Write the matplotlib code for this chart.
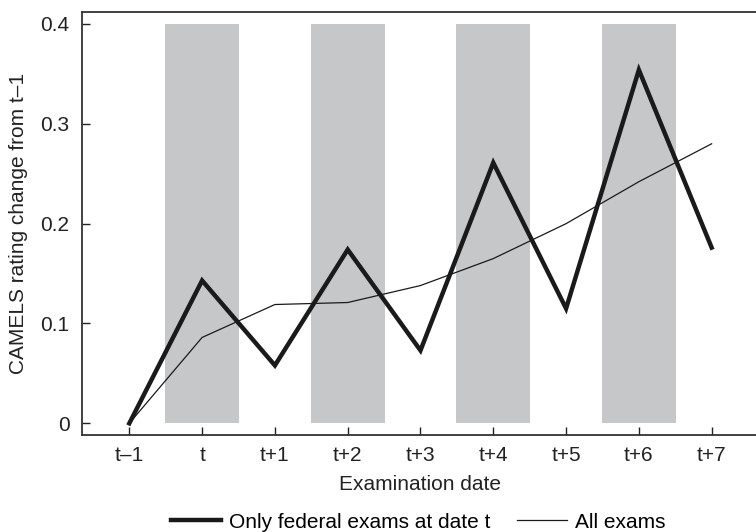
import matplotlib
matplotlib.use("Agg")
import matplotlib.pyplot as plt
from matplotlib.lines import Line2D

plt.rcParams['font.family'] = ['Liberation Sans', 'DejaVu Sans']

# Examination dates relative to t
dates = ["t\u20131", "t", "t+1", "t+2", "t+3", "t+4", "t+5", "t+6", "t+7"]
# Mean CAMELS rating change since t-1
federal_only = [0.0, 0.143, 0.058, 0.174, 0.073, 0.261, 0.115, 0.354, 0.176]
all_exams = [0.0, 0.086, 0.119, 0.121, 0.138, 0.165, 0.200, 0.242, 0.280]
# Dates with a federal exam (shaded bands)
shaded_dates = ["t", "t+2", "t+4", "t+6"]
band_top = 0.4

y_ticks = [0, 0.1, 0.2, 0.3, 0.4]
y_ticklabels = ["0", "0.1", "0.2", "0.3", "0.4"]

FS = 15

fig = plt.figure(figsize=(7.56, 5.32), dpi=100)
ax = fig.add_axes([82 / 756, 1 - 435 / 532, 1 - 82 / 756 + 0.002, (435 - 12) / 532])

x = list(range(len(dates)))
band_x = [dates.index(d) for d in shaded_dates]
ax.bar(band_x, [band_top] * len(band_x), width=1.02, bottom=0,
       color="#c6c7c9", edgecolor="none", zorder=1)

ax.plot(x, all_exams, color="#1a1a1a", lw=0.9, zorder=2)
ax.plot(x, federal_only, color="#1a1a1a", lw=3.2, zorder=3,
        solid_joinstyle="miter")

ax.set_xlim(-0.65, 8.63)
ax.set_ylim(-0.0117, 0.412)
ax.set_xticks(x)
ax.set_xticklabels(dates)
ax.set_yticks(y_ticks)
ax.set_yticklabels(y_ticklabels)

ax.tick_params(direction="in", length=6, width=1.0, labelsize=FS,
               colors="#222222", pad=9)
ax.tick_params(axis="x", pad=8)
for side in ["left", "bottom", "top"]:
    ax.spines[side].set_linewidth(1.3)
    ax.spines[side].set_color("#333333")
ax.spines["right"].set_visible(False)

ax.set_xlabel("Examination date", fontsize=FS, color="#222222", labelpad=7)
ax.set_ylabel("CAMELS rating change from t\u20131", fontsize=FS,
              color="#222222", labelpad=9)

handles = [Line2D([], [], color="#1a1a1a", lw=3.2),
           Line2D([], [], color="#1a1a1a", lw=0.9)]
labels = ["Only federal exams at date t", "All exams"]
fig.legend(handles, labels, ncol=2, loc="center",
           bbox_to_anchor=(0.553, 0.0185), frameon=False, fontsize=FS,
           handlelength=2.4, handletextpad=0.4, columnspacing=1.25,
           borderpad=0.0, borderaxespad=0.0)

fig.savefig("out.png", dpi=100)
